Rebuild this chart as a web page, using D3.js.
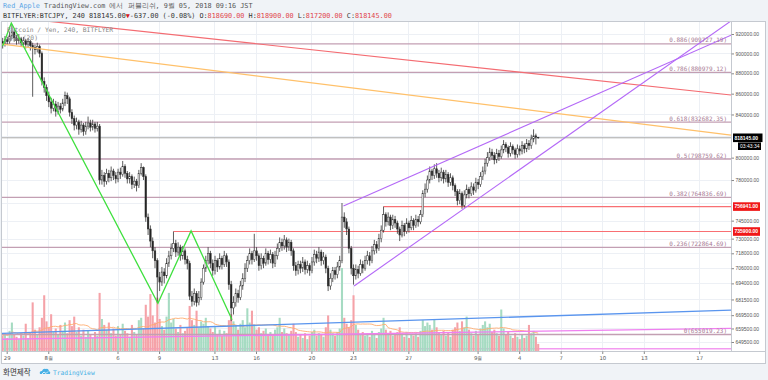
<!DOCTYPE html>
<html><head><meta charset="utf-8">
<script src="https://cdn.jsdelivr.net/npm/d3@7"></script>
<style>body{margin:0;background:#f0f3f7;}svg{display:block}</style>
</head><body>
<svg id="c" width="768" height="380"></svg>
<script>
// ---------- DATA (prices in thousands of JPY) ----------
const UNIT = 1000;
const lastBarTime = "2018-09-05T09:00:00Z"; // 240-minute bars, JST shown as UTC
const close = [910,914,912,918,922,916,913,915,911,913,
909,912,908,906,904,907,900,872,866,858,
852,846,850,843,848,845,851,858,855,842,
836,830,833,826,830,824,829,832,828,831,
827,829,780,784,779,786,782,788,784,781,
787,785,792,786,781,783,776,779,775,786,
791,783,748,738,728,720,712,699,695,703,
700,710,716,722,726,719,723,716,720,713,
710,684,680,686,679,683,695,706,712,718,
710,704,712,707,714,709,716,711,693,675,
679,686,683,692,698,706,712,718,713,720,
716,708,714,710,718,713,717,710,716,722,
727,724,729,723,727,720,708,704,709,706,
711,705,708,704,711,717,714,719,712,715,
706,692,698,704,701,707,712,748,744,738,
722,706,700,705,702,709,706,712,716,712,
720,725,722,730,737,750,744,748,741,746,
743,738,733,741,736,743,739,745,741,746,
744,750,768,772,780,788,784,790,786,782,
787,781,785,778,782,775,770,762,768,758,
767,772,768,774,771,778,776,783,788,795,
800,805,802,798,804,801,807,812,809,804,
810,807,803,808,806,811,808,813,811,817,
820,818.69,818.145];
const firstOpen = 912;
const high = [916,918,917,922,930,925,919,920,917,917,
915,916,914,911,909,911,909,902,876,869,
862,856,855,853,852,851,855,862,861,857,
845,839,837,835,834,832,833,838,835,835,
833,833,831,789,787,790,789,792,790,787,
790,791,797,794,788,787,785,783,781,789,
795,792,785,751,741,731,723,714,703,707,
706,714,720,726,735.9,729,727,725,724,722,
716,712,688,690,688,688,698,709,716,723,
720,713,716,714,718,716,720,718,713,696,
684,690,689,696,702,710,716,722,720,734,
723,718,718,716,722,720,721,719,720,726,
731,730,733,731,730,729,722,711,712,712,
715,713,712,710,715,721,720,723,721,719,
717,708,702,707,707,711,716,760,752,747,
740,724,709,709,708,713,712,716,720,719,
724,729,728,734,741,756.941,752,752,750,750,
749,745,740,745,743,747,745,749,747,750,
749,754,771,777,784,792,790,794,795,789,
791,789,789,787,786,784,777,772,772,770,
771,776,774,778,777,782,781,787,792,799,
805,809,808,805,808,807,811,816,814,811,
814,812,809,812,811,815,813,817,816,821,
826,822,818.9];
const low = [905,907,909,910,915,912,909,910,907,908,
905,906,903,857,899,901,896,868,861,853,
847,841,843,838,840,841,843,848,850,838,
831,825,826,821,823,820,821,826,824,825,
823,824,776,776,774,776,778,779,780,777,
778,781,783,782,777,777,772,773,770,773,
784,780,744,733,723,714,706,679,688,692,
694,698,707,713,719,715,716,712,713,709,
705,681,676,677,676,677,681,693,703,709,
706,700,701,703,705,705,707,707,689,665,
670,676,679,681,689,695,703,709,709,711,
712,704,705,706,708,709,710,706,707,713,
719,720,721,719,720,716,704,700,701,702,
703,701,702,700,702,708,710,711,708,709,
702,688,689,695,697,698,704,710,739,733,
718,701,693,697,698,700,702,704,709,708,
710,717,718,720,727,735,740,741,737,738,
739,734,728,731,732,734,735,737,737,739,
740,742,748,765,769,777,780,781,782,778,
779,777,778,774,775,771,766,758,759,755,
756,764,764,766,767,769,772,774,780,785,
792,797,798,794,795,797,799,804,805,800,
801,803,799,800,802,803,804,805,807,808,
814,812,817.2];
const volume = [1300,1500,1100,1700,2400,1400,1200,1000,1500,1300,
2300,1100,1600,4100,1800,1400,2000,2800,4700,2500,
2000,3100,1600,1900,1400,2200,1700,2400,1500,2600,
2100,2900,1600,2000,1300,1800,1200,1700,1400,1100,
1600,1300,4900,2700,2200,1800,2400,1500,1900,1300,
2100,1400,2300,1700,1500,1200,2200,1600,1400,2600,
2800,1900,3900,2900,4800,3000,2400,4500,2700,2100,
1800,2900,4900,2400,2700,1900,1600,2200,1500,1700,
2000,3800,2600,2200,3400,2000,2500,2300,2800,2100,
1900,1600,2000,1400,1800,1300,1700,1500,2600,3100,
2500,2200,1800,2300,2600,2000,3600,2400,3400,2200,
1800,2000,1500,1700,1900,1400,1600,1300,1800,2000,
2800,1600,1900,1500,1400,1700,2300,1600,1200,1400,
1100,1500,1000,1300,1600,1800,1300,1500,1400,1200,
2000,3000,1800,1500,1300,1600,1900,7000,2800,2300,
2000,2600,4700,2200,1800,1400,1600,1300,1500,1200,
1700,1400,1100,1600,1900,2800,1800,1500,1700,1300,
1400,1600,2000,1500,1200,1600,1100,1400,1300,1500,
1200,1700,2600,2100,2400,2200,1800,2700,2000,1600,
1400,1700,1300,1600,1200,1800,2000,2400,1700,2500,
2000,2900,1800,1500,1300,1700,1400,1900,2200,2500,
2000,2300,1600,1800,1500,1300,3500,1900,1400,1600,
1300,1100,1500,1200,1000,1400,1100,1300,2200,1500,
1700,1200,600];

// grid levels; the labels at 820000 and 760000 sit under the price badges, so they are not printed
const gridTicks = [920000,900000,880000,860000,840000,820000,800000,780000,760000,745000,730000,718000,706000,694000,681500,669500,659500,649500];
const priceTicks = [920000,900000,880000,860000,840000,800000,780000,745000,730000,718000,706000,694000,681500,669500,659500,649500];
const timeTicks = ["2018-07-29","2018-08-01","2018-08-06","2018-08-09","2018-08-13","2018-08-16","2018-08-20","2018-08-23","2018-08-27","2018-09-01","2018-09-04","2018-09-07","2018-09-10","2018-09-13","2018-09-17"];
const timeTickLabels = ["29","8월","6","9","13","16","20","23","27","9월","4","7","10","13","17"];

const fibLevels = [0.886,0.786,0.618,0.5,0.382,0.236,0];
const fibPrices = [909727.19,880979.12,832682.35,798759.62,764836.69,722864.69,655019.23];

const zigzag = [["2018-07-28T17:00",907600],["2018-07-29T08:00",931500],["2018-08-08T22:00",678600],["2018-08-11T07:30",736400],["2018-08-14T06:30",666100]];
const channelUpper = [["2018-08-22T07:30",757500],["2018-09-06T05:30",839600]];
const channelLower = [["2018-08-23T02:00",692000],["2018-09-06T05:30",808600]];
const redTrend = [["2018-08-16T04:00",909700],["2018-09-13T17:30",866800]];
const orangeTrend = [["2018-08-11T23:00",884500],["2018-09-13T17:30",829600]];
const blueTrend = [["2018-08-04T17:45",658200],["2018-09-10T20:10",670500]];
const pinkTrend = [["2018-08-04T17:45",652600],["2018-09-10T20:10",658300]];
const pinkLevel = 644600;
const redLevels = [{price:756941, bar:165},{price:735900, bar:74}];
const lastPrice = 818145, countdown = "03:43:34";

// ---------- LAYOUT ----------
const svg = d3.select("#c");
const pane = {l:2, t:22, r:731, b:351};
const x = d3.scaleUtc().domain([new Date("2018-07-29T00:00Z"), new Date("2018-09-17T00:00Z")]).range([6.7, 699.2]);
const y = d3.scaleLog().domain([649500, 920000]).range([342, 34]);
const vy = d3.scaleLinear().domain([0, 7000]).range([351, 268]);
const T = s => new Date(s.length<=10 ? s+"T00:00Z" : (s.endsWith("Z") ? s : s+"Z"));

const N = close.length;
const last = new Date(lastBarTime).getTime();
const bars = close.map((c,i)=>({
  t: new Date(last - (N-1-i)*4*3600e3),
  o: (i===0?firstOpen:close[i-1])*UNIT, h: high[i]*UNIT, l: low[i]*UNIT, c: c*UNIT, v: volume[i]
}));

svg.append("rect").attr("width",768).attr("height",380).attr("fill","#f0f3f7");
svg.append("rect").attr("x",1.5).attr("y",21.5).attr("width",764).attr("height",342).attr("fill","#fff").attr("stroke","#c5c9d0");

const defs = svg.append("defs");
defs.append("clipPath").attr("id","pc").append("rect").attr("x",pane.l).attr("y",pane.t).attr("width",pane.r-pane.l).attr("height",pane.b-pane.t);
const g = svg.append("g").attr("clip-path","url(#pc)");

// grid
g.selectAll(".hg").data(gridTicks).join("line").attr("x1",pane.l).attr("x2",pane.r)
  .attr("y1",d=>Math.round(y(d))+0.5).attr("y2",d=>Math.round(y(d))+0.5).attr("stroke","#edf0f5");
g.selectAll(".vg").data(timeTicks).join("line").attr("y1",pane.t).attr("y2",pane.b)
  .attr("x1",d=>Math.round(x(T(d)))+0.5).attr("x2",d=>Math.round(x(T(d)))+0.5).attr("stroke","#edf0f5");

// pink level under volume
g.append("line").attr("x1",pane.l).attr("x2",pane.r).attr("y1",y(pinkLevel)).attr("y2",y(pinkLevel)).attr("stroke","#f39af0").attr("stroke-width",1.4);

// volume
const bw = (x(bars[1].t)-x(bars[0].t));
g.selectAll(".vol").data(bars).join("rect")
  .attr("x",d=>x(d.t)-bw*0.45).attr("width",bw*0.9)
  .attr("y",d=>vy(d.v)).attr("height",d=>vy(0)-vy(d.v))
  .attr("fill",d=>d.c>=d.o?"#a6dbc2":"#f5a2a8");
// volume MA(20)
const ma = bars.map((d,i)=>{const s=bars.slice(Math.max(0,i-19),i+1);return {t:d.t,v:d3.mean(s,e=>e.v)};});
g.append("path").datum(ma).attr("fill","none").attr("stroke","#ffab6e").attr("stroke-width",0.9)
  .attr("d",d3.line().x(d=>x(d.t)).y(d=>vy(d.v)));

// fib levels
fibPrices.forEach((p,i)=>{
  g.append("line").attr("x1",pane.l).attr("x2",pane.r).attr("y1",y(p)).attr("y2",y(p)).attr("stroke","#c39fb3").attr("stroke-width",1.3);
  svg.append("text").attr("x",727).attr("y",y(p)-1.5).attr("text-anchor","end")
    .attr("font-family","DejaVu Sans Mono").attr("font-size",6).attr("fill","#a77a93")
    .text(`${fibLevels[i]}(${p.toFixed(2)})`);
});
// last price line
g.append("line").attr("x1",pane.l).attr("x2",pane.r).attr("y1",y(lastPrice)).attr("y2",y(lastPrice)).attr("stroke","#a8a8a8").attr("stroke-width",1);
// red levels
redLevels.forEach(r=>{
  g.append("line").attr("x1",x(bars[r.bar].t)).attr("x2",pane.r).attr("y1",y(r.price)).attr("y2",y(r.price)).attr("stroke","#f86f73").attr("stroke-width",1.2);
});

// trend line helper (extends in pixel space)
function seg(pts, extL, extR){
  const [a,b] = pts.map(p=>[x(T(p[0])), y(p[1])]);
  const k = (b[1]-a[1])/(b[0]-a[0]);
  const p1 = extL ? [pane.l, a[1]+k*(pane.l-a[0])] : a;
  const p2 = extR ? [pane.r, a[1]+k*(pane.r-a[0])] : b;
  return [p1,p2];
}
function drawLine(pts, color, w){
  g.append("path").attr("d", d3.line()(pts)).attr("fill","none").attr("stroke",color).attr("stroke-width",w);
}
drawLine(seg(blueTrend,true,true),"#5a95ee",1.3);
drawLine(seg(pinkTrend,true,true),"#f07ff0",1.3);

// candles
const cg = g.append("g");
bars.forEach(d=>{
  const cx = x(d.t);
  cg.append("line").attr("x1",cx).attr("x2",cx).attr("y1",y(d.h)).attr("y2",y(d.l)).attr("stroke","#333").attr("stroke-width",0.8);
  const top = y(Math.max(d.o,d.c)), bot = y(Math.min(d.o,d.c));
  cg.append("rect").attr("x",cx-0.8).attr("width",1.6).attr("y",top).attr("height",Math.max(0.6,bot-top))
    .attr("fill", d.c>=d.o ? "#fff" : "#222").attr("stroke","#333").attr("stroke-width",0.5);
});

drawLine(seg(orangeTrend,true,true),"#ffc06a",1.2);
drawLine(seg(redTrend,true,true),"#f46c72",1.2);
drawLine(seg(channelUpper,false,true),"#b469f7",1.1);
drawLine(seg(channelLower,false,true),"#b469f7",1.1);
g.append("path").attr("d",d3.line()(zigzag.map(p=>[x(T(p[0])),y(p[1])]))).attr("fill","none").attr("stroke","#3ee03e").attr("stroke-width",1.3);

// pane legend
svg.append("text").attr("x",7).attr("y",31.5).attr("font-family","DejaVu Sans Mono").attr("font-size",6.3).attr("fill","#888").text("Bitcoin / Yen, 240, BITFLYER");
svg.append("text").attr("x",7).attr("y",40).attr("font-family","DejaVu Sans Mono").attr("font-size",6.3).attr("fill","#888").text("볼륨 (20)");

// axes frame
svg.append("line").attr("x1",731.5).attr("x2",731.5).attr("y1",21.5).attr("y2",351.5).attr("stroke","#c5c9d0");
svg.append("line").attr("x1",1.5).attr("x2",765.5).attr("y1",351.5).attr("y2",351.5).attr("stroke","#c5c9d0");

const ya = svg.append("g").attr("transform","translate(731.5,0)")
  .call(d3.axisRight(y).tickValues(priceTicks).tickFormat(d=>d.toFixed(2)).tickSize(2.5).tickPadding(1.5));
ya.select(".domain").remove();
ya.selectAll("line").attr("stroke","#888");
ya.selectAll("text").attr("font-family","Liberation Sans").attr("font-size",5).attr("fill","#555");

const xa = svg.append("g").attr("transform","translate(0,351.5)")
  .call(d3.axisBottom(x).tickValues(timeTicks.map(T)).tickFormat((d,i)=>timeTickLabels[i]).tickSize(2.5).tickPadding(2));
xa.select(".domain").remove();
xa.selectAll("line").attr("stroke","#888");
xa.selectAll("text").attr("font-family","DejaVu Sans").attr("font-size",5.3).attr("fill","#555");

// price badges
function badge(price, text, fill, w){
  const cy = y(price);
  svg.append("rect").attr("x",733).attr("y",cy-4.3).attr("width",w).attr("height",8.6).attr("fill",fill);
  svg.append("text").attr("x",734.5).attr("y",cy+1.9).attr("font-family","Liberation Sans").attr("font-weight","bold").attr("font-size",5).attr("fill","#fff").text(text);
}
badge(lastPrice, d3.format(".2f")(lastPrice), "#000", 29.5);
redLevels.forEach(r=>badge(r.price, r.price.toFixed(2), "#f01818", 27));
svg.append("rect").attr("x",738).attr("y",y(lastPrice)+4.6).attr("width",23).attr("height",7.6).attr("fill","#000");
svg.append("text").attr("x",740).attr("y",y(lastPrice)+10.3).attr("font-family","Liberation Sans").attr("font-size",5).attr("fill","#fff").text(countdown);

// header
const h1 = svg.append("text").attr("x",3).attr("y",8).attr("font-family","DejaVu Sans Mono").attr("font-size",6.8);
h1.append("tspan").attr("fill","#5aa6e6").text("Red_Apple");
h1.append("tspan").attr("fill","#555").text(" TradingView.com 에서 퍼블리쉬, 9월 05, 2018 09:16 JST");
const h2 = svg.append("text").attr("x",3).attr("y",18).attr("font-family","DejaVu Sans Mono").attr("font-size",6.8).attr("fill","#333");
h2.append("tspan").text("BITFLYER:BTCJPY, 240 818145.00");
h2.append("tspan").attr("fill","#d42020").text("▼");
h2.append("tspan").text("-637.00 (-0.08%) O:");
h2.append("tspan").attr("fill","#e0454b").text("818690.00");
h2.append("tspan").text(" H:");
h2.append("tspan").attr("fill","#e0454b").text("818900.00");
h2.append("tspan").text(" L:");
h2.append("tspan").attr("fill","#e0454b").text("817200.00");
h2.append("tspan").text(" C:");
h2.append("tspan").attr("fill","#e0454b").text("818145.00");

// footer
svg.append("text").attr("x",3).attr("y",375).attr("font-family","Noto Sans CJK KR").attr("font-size",7.5).attr("fill","#333").text("화면제작");
const logo = svg.append("g").attr("transform","translate(39,368)");
logo.append("path").attr("d","M1,6 Q0,3 3,3 Q4,0 7,1 Q9,0 10,3 Q12,4 11,6 Z").attr("fill","#47b0e5");
logo.append("path").attr("d","M3,6 L5,4 L7,5.5 L9,3.5").attr("fill","none").attr("stroke","#fff").attr("stroke-width",0.8);
svg.append("text").attr("x",53).attr("y",374.5).attr("font-family","DejaVu Sans Mono").attr("font-size",6.3).attr("fill","#47b0e5").text("TradingView");
</script>
</body></html>
